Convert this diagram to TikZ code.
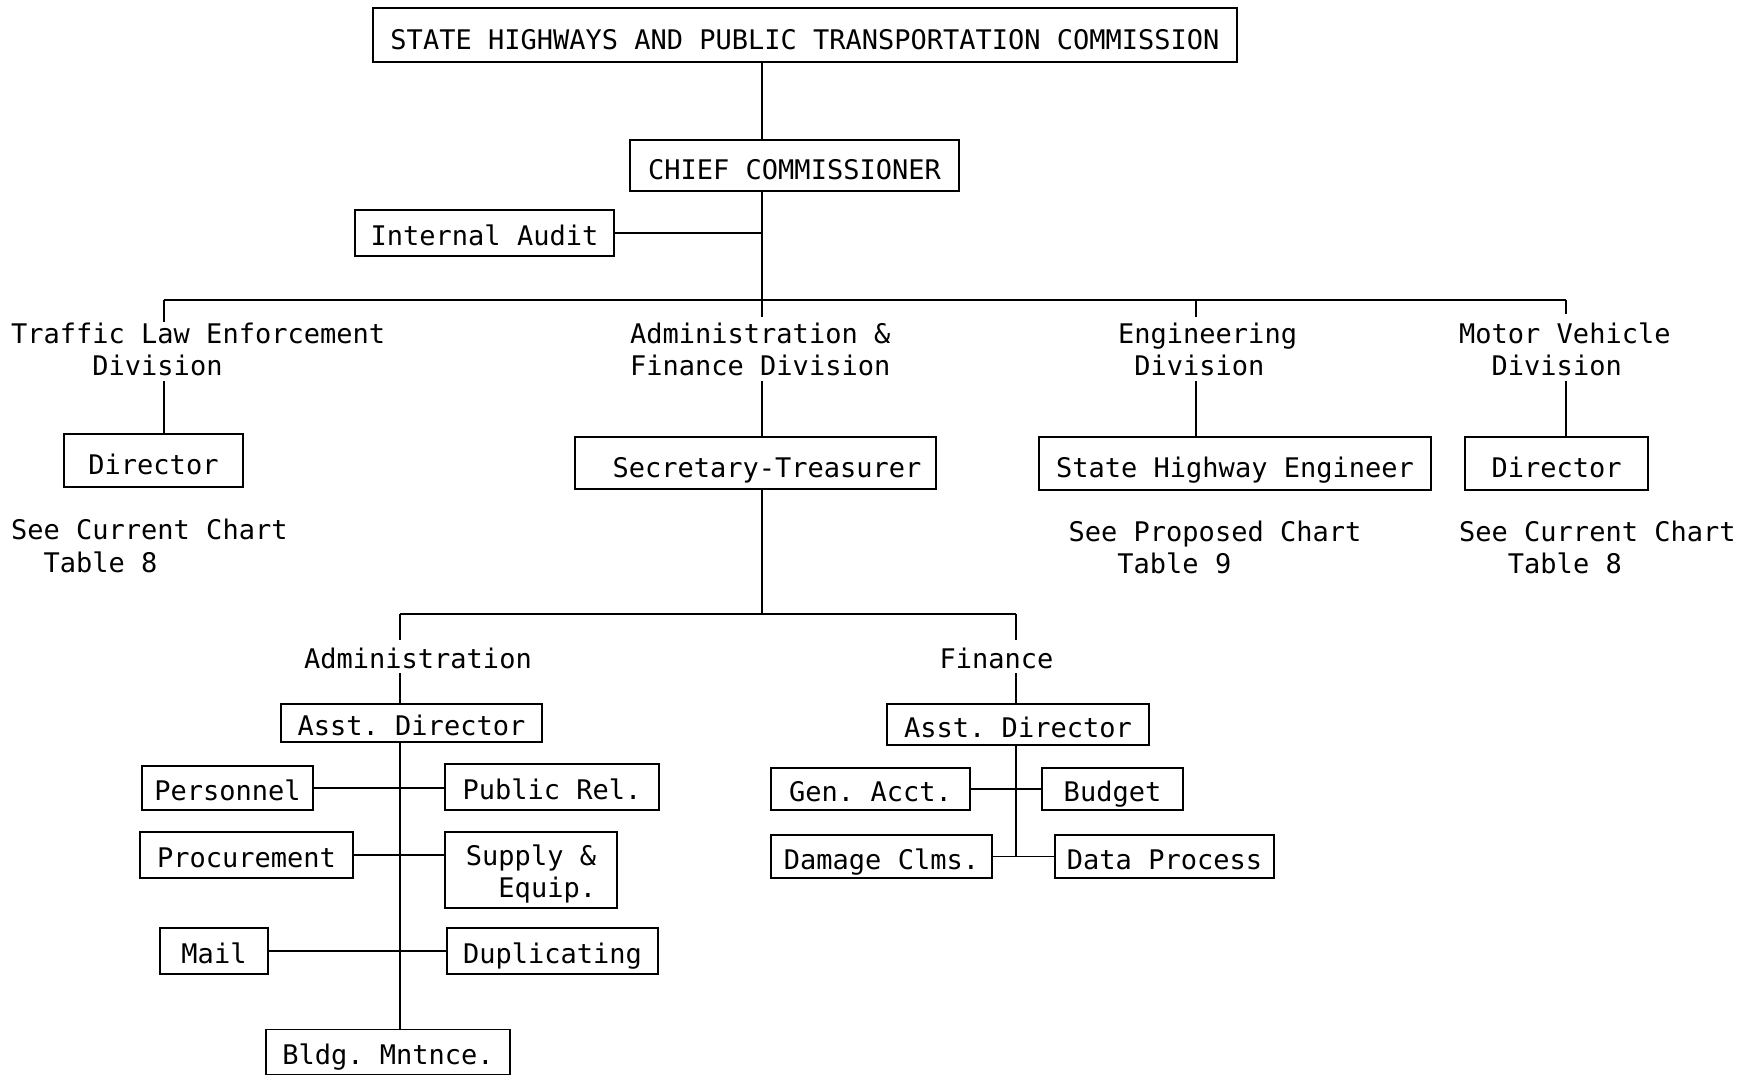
\documentclass[tikz,border=0pt]{standalone}
\usepackage{fontspec}
\newfontfamily\chartfont{DejaVu Sans Mono}
\begin{document}
\frenchspacing
\begin{tikzpicture}[x=1pt,y=-1pt,
  chartfnt/.style={font={\chartfont\frenchspacing\fontsize{27}{32.5}\selectfont}},
  boxbase/.style={draw, line width=1.4pt, inner sep=0pt, chartfnt},
  box/.style={boxbase, text height=25pt, text depth=0pt},
  bigbox/.style={boxbase, text height=28.7pt, text depth=0pt},
  lbl/.style={anchor=base west, inner sep=0pt, chartfnt},
  conn/.style={line width=1.8pt},
  thinconn/.style={line width=1.1pt}]
\useasboundingbox (0,0) rectangle (1758,1076);

% ---- top levels
\node[bigbox, minimum width=864pt, minimum height=54pt] (top) at (805,35) {STATE HIGHWAYS AND PUBLIC TRANSPORTATION COMMISSION};
\node[bigbox, minimum width=329pt, minimum height=51pt] (chief) at (794.5,165.5) {CHIEF COMMISSIONER};
\node[box, minimum width=259pt, minimum height=46pt] (audit) at (484.5,233) {Internal Audit};

\coordinate (busL) at (164,300);
\coordinate (busM) at (762,300);
\coordinate (busE) at (1196,300);
\coordinate (busR) at (1566,300);
\coordinate (tleT) at (164,322);
\coordinate (afT) at (762,317);
\coordinate (engT) at (1196,317);
\coordinate (mvT) at (1566,314);

\draw[conn] (top.south -| busM) -- (chief.north -| busM);
\draw[conn] (chief.south -| busM) -- (afT);
\draw[conn] (audit.east) -- (audit.east -| busM);
\draw[conn] (busL) -- (busR);
\draw[conn] (busL) -- (tleT);
\draw[conn] (busE) -- (engT);
\draw[conn] (busR) -- (mvT);

% ---- division labels
\node[lbl] (tle1) at (11,343) {Traffic Law Enforcement};
\node[lbl] (tle2) at (11,375.5) {\hphantom{XXXXX}Division};
\node[lbl] (af1) at (630,343) {Administration \&};
\node[lbl] (af2) at (630,375.5) {Finance Division};
\node[lbl] (eng1) at (1118,343) {Engineering};
\node[lbl] (eng2) at (1118,375.5) {\hphantom{X}Division};
\node[lbl] (mv1) at (1459,343) {Motor Vehicle};
\node[lbl] (mv2) at (1459,375.5) {\hphantom{XX}Division};

% ---- division heads
\node[bigbox, minimum width=179pt, minimum height=53pt] (dir1) at (153.5,460.5) {Director};
\node[bigbox, minimum width=361pt, minimum height=52pt] (sec) at (755.5,463) {\hspace*{23pt}Secretary-Treasurer};
\node[bigbox, minimum width=392pt, minimum height=53pt] (she) at (1235,463.5) {State Highway Engineer};
\node[bigbox, minimum width=183pt, minimum height=53pt] (dir2) at (1556.5,463.5) {Director};

\coordinate (tleB) at (164,381);
\coordinate (afB) at (762,381);
\coordinate (engB) at (1196,381);
\coordinate (mvB) at (1566,381);
\draw[conn] (tleB) -- (tleB |- dir1.north);
\draw[conn] (afB) -- (afB |- sec.north);
\draw[conn] (engB) -- (engB |- she.north);
\draw[conn] (mvB) -- (mvB |- dir2.north);

% ---- notes
\node[lbl] (n1a) at (11,539) {See Current Chart};
\node[lbl] (n1b) at (11,572) {\hphantom{XX}Table 8};
\node[lbl] (n2a) at (1068.5,541) {See Proposed Chart};
\node[lbl] (n2b) at (1068.5,573) {\hphantom{XXX}Table 9};
\node[lbl] (n3a) at (1459,541) {See Current Chart};
\node[lbl] (n3b) at (1459,573) {\hphantom{XXX}Table 8};

% ---- admin & finance split
\coordinate (b2M) at (762,614);
\coordinate (b2L) at (400,614);
\coordinate (b2R) at (1016,614);
\coordinate (admT) at (400,640);
\coordinate (finT) at (1016,640);
\draw[conn] (sec.south -| b2M) -- (b2M);
\draw[conn] (b2L) -- (b2R);
\draw[conn] (b2L) -- (admT);
\draw[conn] (b2R) -- (finT);

\node[lbl] (adm) at (304,668) {Administration};
\node[lbl] (fin) at (939.5,668) {Finance};

\node[box, minimum width=261pt, minimum height=38pt] (aad) at (411.5,723) {Asst. Director};
\node[box, minimum width=262pt, minimum height=41pt] (fad) at (1018,724.5) {Asst. Director};

\coordinate (admB) at (400,673);
\coordinate (finB) at (1016,673);
\draw[conn] (admB) -- (admB |- aad.north);
\draw[conn] (finB) -- (finB |- fad.north);

% ---- administration units
\node[box, minimum width=171pt, minimum height=44pt] (pers) at (227.5,788) {Personnel};
\node[box, minimum width=214pt, minimum height=46pt] (prel) at (552,787) {Public Rel.};
\node[box, minimum width=213pt, minimum height=46pt] (proc) at (246.5,855) {Procurement};
\node[boxbase, align=left, minimum width=172pt, minimum height=76pt] (supp) at (531,870) {\rule{0pt}{29pt}Supply \&\\\hphantom{XX}Equip.};
\node[box, minimum width=108pt, minimum height=46pt] (mail) at (214,951) {Mail};
\node[box, minimum width=211pt, minimum height=46pt] (dup) at (552.5,951) {Duplicating};
\node[box, minimum width=244pt, minimum height=45pt] (bldg) at (388,1052) {Bldg. Mntnce.};

\coordinate (admV) at (400,742);
\draw[conn] (admV |- aad.south) -- (admV |- bldg.north);
\draw[conn] (pers.east) -- (pers.east -| prel.west);
\draw[conn] (proc.east) -- (proc.east -| supp.west);
\draw[thinconn] (mail.east) -- (dup.west);

% ---- finance units
\node[box, minimum width=199pt, minimum height=42pt] (gen) at (870.5,789) {Gen. Acct.};
\node[box, minimum width=141pt, minimum height=42pt] (bud) at (1112.5,789) {Budget};
\node[box, minimum width=221pt, minimum height=43pt] (dmg) at (881.5,856.5) {Damage Clms.};
\node[box, minimum width=219pt, minimum height=43pt] (dat) at (1164.5,856.5) {Data Process};

\coordinate (finV) at (1016,745);
\draw[conn] (finV |- fad.south) -- (finV |- dmg.east);
\draw[conn] (gen.east) -- (bud.west);
\draw[conn] (dmg.east) -- (dat.west);
\end{tikzpicture}
\end{document}
